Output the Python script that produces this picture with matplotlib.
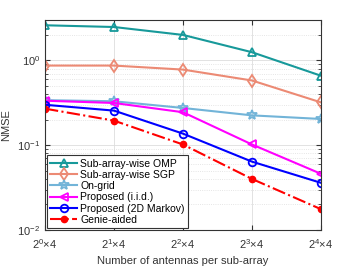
import numpy as np
import matplotlib
matplotlib.use("Agg")
import matplotlib.pyplot as plt

# x positions: 2^k x 4 antennas per sub-array
k = [0, 1, 2, 3, 4]
xtick_labels = [r"$2^{%d}$$\times$4" % i for i in k]

omp = [2.6, 2.48, 2.0, 1.25, 0.66]
sgp = [0.87, 0.87, 0.78, 0.58, 0.32]
ongrid = [0.34, 0.33, 0.275, 0.225, 0.204]
prop_iid = [0.335, 0.315, 0.245, 0.102, 0.046]
prop_markov = [0.30, 0.256, 0.137, 0.064, 0.036]
genie = [0.27, 0.195, 0.102, 0.040, 0.0176]

plt.rcParams["font.family"] = ["Liberation Sans", "DejaVu Sans"]
plt.rcParams["mathtext.fontset"] = "custom"
plt.rcParams["mathtext.rm"] = "Liberation Sans"

fig = plt.figure(figsize=(3.54, 2.66), dpi=100)
ax = fig.add_axes([45 / 354, 1 - 230 / 266, 276 / 354, 210 / 266])

lw = 1.5
ax.semilogy(k, omp, "-^", color="#17999a", lw=lw, ms=6, mfc="none", mew=1.3, label="Sub-array-wise OMP")
ax.semilogy(k, sgp, "-d", color="#ec8a74", lw=lw, ms=6, mfc="none", mew=1.3, label="Sub-array-wise SGP")
ax.semilogy(k, ongrid, "-*", color="#72b4d8", lw=lw, ms=7, mfc="none", mew=1.3, label="On-grid")
ax.semilogy(k, prop_iid, "-<", color="#ff00ff", lw=lw, ms=6, mfc="none", mew=1.3, label="Proposed (i.i.d.)")
ax.semilogy(k, prop_markov, "-o", color="#0000ff", lw=lw, ms=5.5, mfc="none", mew=1.3, label="Proposed (2D Markov)")
ax.semilogy(k, genie, "-.o", color="#ff0000", lw=lw, ms=4.5, mfc="#ff0000", label="Genie-aided")

ax.set_xlim(0, 4)
ax.set_ylim(1e-2, 3)
ax.set_xticks(k)
ax.set_xticklabels(xtick_labels)
ax.tick_params(which="both", direction="in", top=True, right=True, labelsize=8, colors="#333333")
ax.tick_params(axis="x", pad=5)
ax.grid(True, which="major", color="#dddddd", lw=0.6)
ax.grid(True, which="minor", axis="y", color="#dddddd", lw=0.6, ls=":")
for s in ax.spines.values():
    s.set_color("#333333")
    s.set_linewidth(0.8)

ax.set_xlabel("Number of antennas per sub-array", fontsize=8, color="#333333")
ax.set_ylabel("NMSE", fontsize=8, color="#333333")

leg = ax.legend(loc="lower left", fontsize=7.5, handlelength=2.6, borderaxespad=0.2,
                labelspacing=0.12, handletextpad=0.3, borderpad=0.3, fancybox=False,
                framealpha=1)
leg.get_frame().set_edgecolor("#333333")
leg.get_frame().set_linewidth(0.8)

fig.savefig("out.png", dpi=100)
